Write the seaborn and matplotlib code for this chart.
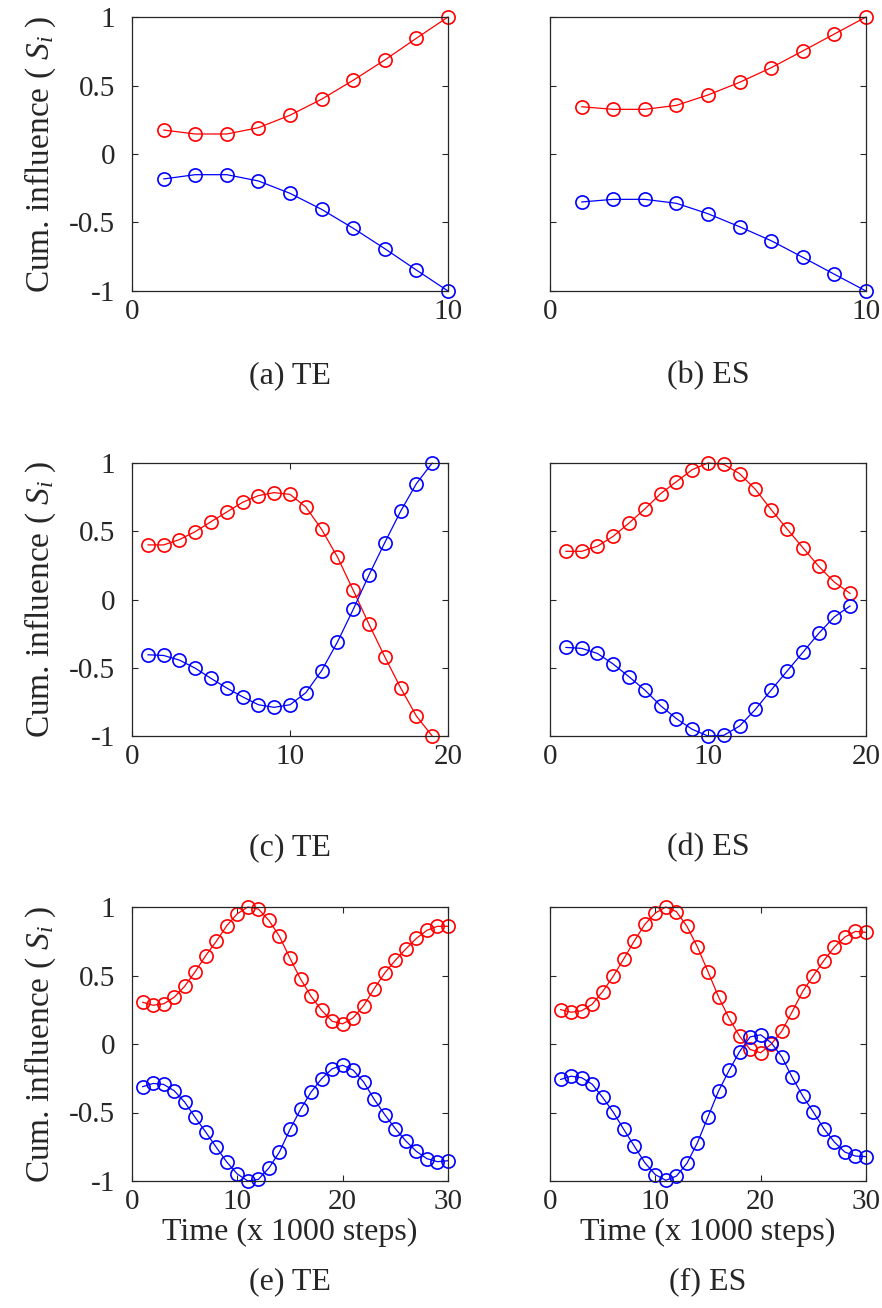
import matplotlib
matplotlib.use("Agg")
import matplotlib.pyplot as plt
import seaborn as sns
import pandas as pd

# ---- data ----
x_row1 = list(range(1, 11))
x_row2 = list(range(1, 20))
x_row3 = list(range(1, 31))

red_a = [0.175, 0.146, 0.146, 0.192, 0.283, 0.400, 0.538, 0.686, 0.845, 1.0]
blue_a = [-0.182, -0.151, -0.151, -0.197, -0.287, -0.404, -0.542, -0.691, -0.847, -1.0]

red_b = [0.345, 0.326, 0.326, 0.355, 0.431, 0.523, 0.630, 0.752, 0.876, 1.0]
blue_b = [-0.350, -0.331, -0.331, -0.360, -0.436, -0.531, -0.633, -0.754, -0.878, -1.0]

red_c = [0.40, 0.40, 0.439, 0.497, 0.570, 0.641, 0.712, 0.761, 0.783, 0.770,
         0.678, 0.514, 0.312, 0.068, -0.181, -0.420, -0.647, -0.854, -1.0]
blue_c = [-0.405, -0.41, -0.444, -0.503, -0.578, -0.649, -0.713, -0.771, -0.790, -0.771,
          -0.683, -0.522, -0.312, -0.073, 0.180, 0.417, 0.646, 0.849, 1.0]

red_d = [0.353, 0.353, 0.390, 0.463, 0.560, 0.663, 0.775, 0.863, 0.951, 1.0,
         0.990, 0.922, 0.807, 0.658, 0.517, 0.380, 0.244, 0.127, 0.044]
blue_d = [-0.351, -0.358, -0.395, -0.473, -0.566, -0.663, -0.778, -0.873, -0.951, -1.0,
          -0.995, -0.927, -0.805, -0.663, -0.525, -0.388, -0.249, -0.127, -0.047]

red_e = [0.305, 0.283, 0.293, 0.341, 0.421, 0.528, 0.645, 0.749, 0.864, 0.951,
         1.0, 0.985, 0.902, 0.786, 0.625, 0.475, 0.348, 0.246, 0.166, 0.147,
         0.191, 0.281, 0.405, 0.519, 0.611, 0.694, 0.771, 0.830, 0.859, 0.859]
blue_e = [-0.312, -0.288, -0.295, -0.341, -0.424, -0.536, -0.643, -0.754, -0.862, -0.949,
          -1.0, -0.988, -0.905, -0.788, -0.623, -0.477, -0.351, -0.254, -0.181, -0.155,
          -0.191, -0.278, -0.405, -0.516, -0.618, -0.708, -0.784, -0.837, -0.859, -0.852]

red_f = [0.251, 0.232, 0.242, 0.290, 0.383, 0.494, 0.621, 0.752, 0.873, 0.956,
         1.0, 0.966, 0.859, 0.708, 0.528, 0.344, 0.188, 0.057, -0.040, -0.064,
         -0.001, 0.093, 0.237, 0.385, 0.499, 0.609, 0.708, 0.781, 0.822, 0.815]
blue_f = [-0.259, -0.235, -0.246, -0.293, -0.390, -0.497, -0.623, -0.745, -0.866, -0.954,
          -0.995, -0.964, -0.871, -0.720, -0.531, -0.344, -0.193, -0.055, 0.052, 0.067,
          0.009, -0.093, -0.244, -0.380, -0.497, -0.618, -0.716, -0.789, -0.818, -0.822]

captions = ["(a) TE", "(b) ES", "(c) TE", "(d) ES", "(e) TE", "(f) ES"]
xlims = [10, 20, 30]
xtick_sets = [[0, 10], [0, 10, 20], [0, 10, 20, 30]]
yticks = [-1, -0.5, 0, 0.5, 1]
ytick_labels = ["-1", "-0.5", "0", "0.5", "1"]
ylabel = "Cum. influence ( $S_i$ )"
xlabel = "Time (x 1000 steps)"

# ---- style ----
sns.set_theme(style="ticks")
plt.rcParams["font.family"] = ["Liberation Serif", "DejaVu Serif"]
plt.rcParams["mathtext.fontset"] = "custom"
plt.rcParams["mathtext.rm"] = "Liberation Serif"
plt.rcParams["mathtext.it"] = "Liberation Serif:italic"
plt.rcParams["axes.unicode_minus"] = False

W, H = 882, 1308
fig = plt.figure(figsize=(W / 100, H / 100), dpi=100)

col_left = [132, 550]
col_w = 316
row_top = [17, 463, 907]
row_h = [274, 273, 274]
cap_y = [376, 848, 1282]
txt = "#262626"

series = [(x_row1, red_a, blue_a), (x_row1, red_b, blue_b),
          (x_row2, red_c, blue_c), (x_row2, red_d, blue_d),
          (x_row3, red_e, blue_e), (x_row3, red_f, blue_f)]

for i, (xs, rv, bv) in enumerate(series):
    r, c = divmod(i, 2)
    ax = fig.add_axes([col_left[c] / W, 1 - (row_top[r] + row_h[r]) / H,
                       col_w / W, row_h[r] / H])
    for vals, col in ((rv, "#FF0000"), (bv, "#0000FF")):
        df = pd.DataFrame({"x": xs, "y": vals})
        sns.lineplot(data=df, x="x", y="y", ax=ax, color=col, linewidth=0.9,
                     marker="o", markersize=9.5, markerfacecolor="none",
                     markeredgecolor=col, markeredgewidth=1.2, clip_on=False)
    ax.set_xlim(0, xlims[r])
    ax.set_ylim(-1, 1)
    ax.set_xticks(xtick_sets[r])
    ax.set_xticklabels([str(t) for t in xtick_sets[r]])
    ax.set_yticks(yticks)
    if c == 0:
        ax.set_yticklabels(ytick_labels)
        ax.set_ylabel(ylabel, fontsize=24, color=txt, labelpad=8)
    else:
        ax.set_yticklabels([])
        ax.set_ylabel("")
    if r == 2:
        ax.set_xlabel(xlabel, fontsize=23, color=txt, labelpad=2)
    else:
        ax.set_xlabel("")
    ax.tick_params(direction="in", top=True, right=True, length=4, width=0.8,
                   labelsize=21, colors=txt, pad=6)
    ax.tick_params(axis="y", pad=12)
    for s in ax.spines.values():
        s.set_linewidth(0.9)
        s.set_color(txt)
        s.set_visible(True)
    fig.text((col_left[c] + col_w / 2) / W, 1 - cap_y[r] / H, captions[i],
             ha="center", va="center", fontsize=23, color=txt)

fig.savefig("out.png", dpi=100)
